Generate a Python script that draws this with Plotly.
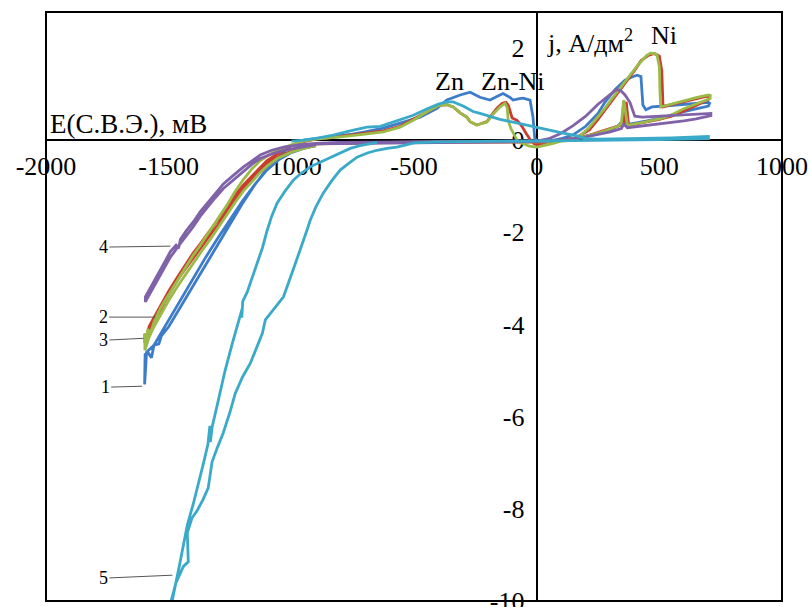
import plotly.graph_objects as go

# ---------------- data (E in mV, j in A/dm2) ----------------
# Curve 1 (blue)
E1 = [-900, -950, -1000, -1050, -1100, -1150, -1200, -1250, -1300, -1350, -1400, -1450, -1500, -1530, -1560, -1590, -1598,
      -1596, -1585, -1570, -1560, -1540, -1530, -1500, -1450, -1400, -1350, -1300, -1250, -1200, -1150, -1100, -1050, -1000, -950,
      -900, -850, -800, -750, -700, -625, -557, -475, -406, -366, -312, -271, -231, -190, -160, -137, -110, -96, -70, -55, -27, -15, -8,
      0, 50, 100, 150, 200, 250, 278, 320, 360, 389, 409, 425, 430, 433, 445, 470, 520, 600, 700, 705,
      700, 600, 520, 450, 380, 362, 355, 348, 330, 300, 250, 200, 150, 100, 50, 0, -200, -500, -800, -900]
J1 = [-0.12, -0.18, -0.27, -0.42, -0.65, -0.97, -1.33, -1.72, -2.13, -2.55, -3.0, -3.45, -3.92, -4.2, -4.45, -4.6, -5.3,
      -4.65, -4.6, -4.72, -4.45, -4.42, -4.25, -4.05, -3.6, -3.15, -2.7, -2.25, -1.8, -1.38, -0.98, -0.62, -0.35, -0.12, 0.0,
      0.03, 0.06, 0.09, 0.13, 0.18, 0.26, 0.37, 0.5, 0.69, 0.87, 0.98, 1.04, 0.93, 0.87, 0.95, 1.01, 0.93, 0.87, 0.9, 0.91, 0.87, 0.5, 0.05,
      -0.03, -0.02, 0.03, 0.12, 0.3, 0.58, 0.82, 1.1, 1.3, 1.37, 1.41, 1.38, 1.0, 0.76, 0.66, 0.72, 0.74, 0.78, 0.82, 0.8,
      0.74, 0.62, 0.5, 0.42, 0.36, 0.33, 0.85, 0.4, 0.3, 0.22, 0.14, 0.08, 0.03, 0.0, -0.02, -0.03, -0.03, -0.04, -0.06, -0.08]

# Curve 2 (red)
E2 = [-900, -950, -1000, -1058, -1100, -1127, -1160, -1195, -1230, -1261, -1300, -1330, -1371, -1400, -1430, -1465, -1500, -1534, -1560, -1580, -1597,
      -1597, -1590, -1580, -1560, -1534, -1500, -1465, -1430, -1400, -1371, -1330, -1300, -1261, -1230, -1195, -1160, -1127, -1100, -1058, -1000, -950,
      -900, -850, -800, -700, -625, -557, -503, -446, -400, -366, -340, -312, -285, -271, -244, -231, -203, -190, -162, -140, -125, -115, -100, -80, -60, -40, -25, -10,
      0, 30, 60, 100, 160, 215, 250, 280, 300, 350, 400, 425, 455, 480, 500, 510, 512, 515, 540, 600, 650, 700, 705,
      700, 650, 600, 550, 500, 450, 400, 375, 365, 355, 340, 300, 250, 200, 150, 100, 50, 0, -300, -600, -900]
J2 = [-0.12, -0.17, -0.24, -0.37, -0.52, -0.65, -0.85, -1.02, -1.28, -1.52, -1.85, -2.05, -2.34, -2.55, -2.78, -3.04, -3.35, -3.69, -3.95, -4.15, -4.4,
      -4.2, -4.3, -4.05, -3.85, -3.6, -3.28, -2.98, -2.7, -2.45, -2.25, -1.95, -1.75, -1.45, -1.2, -0.97, -0.78, -0.6, -0.45, -0.3, -0.12, -0.03,
      0.02, 0.05, 0.08, 0.15, 0.2, 0.3, 0.45, 0.62, 0.75, 0.77, 0.72, 0.59, 0.5, 0.4, 0.33, 0.35, 0.4, 0.5, 0.69, 0.8, 0.82, 0.75, 0.48, 0.43, 0.3, 0.12, 0.0, -0.08,
      -0.1, -0.08, -0.04, 0.0, 0.05, 0.22, 0.45, 0.66, 0.82, 1.17, 1.52, 1.72, 1.84, 1.88, 1.82, 1.5, 0.9, 0.72, 0.76, 0.84, 0.9, 0.96, 0.95,
      0.88, 0.75, 0.64, 0.52, 0.45, 0.4, 0.35, 0.32, 0.83, 0.38, 0.32, 0.25, 0.16, 0.08, 0.03, 0.0, -0.03, -0.04, -0.04, -0.05, -0.08]

# Curve 3 (green)
E3 = [-900, -950, -1000, -1058, -1100, -1127, -1160, -1195, -1230, -1261, -1300, -1330, -1371, -1400, -1430, -1465, -1500, -1534, -1560, -1580, -1597,
      -1597, -1590, -1585, -1575, -1560, -1534, -1500, -1465, -1430, -1400, -1371, -1330, -1300, -1261, -1230, -1195, -1160, -1127, -1100, -1058, -1000, -950,
      -900, -850, -800, -700, -625, -557, -503, -446, -400, -366, -340, -312, -285, -271, -244, -231, -203, -180, -150, -129, -120, -116, -105, -95, -80, -60, -30,
      0, 30, 60, 100, 157, 210, 250, 278, 300, 348, 380, 413, 449, 465, 490, 500, 503, 506, 520, 600, 650, 700, 707,
      707, 650, 600, 550, 520, 450, 400, 370, 355, 345, 330, 300, 250, 200, 150, 100, 50, 0, -300, -600, -900]
J3 = [-0.12, -0.18, -0.26, -0.4, -0.57, -0.7, -0.9, -1.1, -1.36, -1.6, -1.93, -2.15, -2.45, -2.67, -2.9, -3.18, -3.48, -3.8, -4.05, -4.28, -4.56,
      -4.2, -4.35, -4.1, -4.2, -3.95, -3.65, -3.35, -3.05, -2.75, -2.5, -2.28, -1.95, -1.72, -1.4, -1.12, -0.85, -0.62, -0.45, -0.35, -0.22, -0.1, -0.02,
      0.02, 0.04, 0.07, 0.13, 0.18, 0.28, 0.43, 0.62, 0.75, 0.77, 0.72, 0.59, 0.5, 0.4, 0.33, 0.35, 0.39, 0.55, 0.72, 0.8, 0.7, 0.43, 0.25, 0.15, 0.0, -0.07, -0.13,
      -0.15, -0.12, -0.08, -0.02, 0.0, 0.25, 0.5, 0.69, 0.85, 1.19, 1.42, 1.63, 1.84, 1.89, 1.86, 1.6, 1.0, 0.72, 0.74, 0.86, 0.92, 0.98, 0.97,
      0.9, 0.78, 0.68, 0.55, 0.49, 0.4, 0.35, 0.32, 0.87, 0.35, 0.3, 0.24, 0.15, 0.08, 0.03, -0.01, -0.03, -0.04, -0.04, -0.05, -0.08]

# Curve 4 (purple)
E4 = [-900, -963, -1032, -1080, -1127, -1160, -1195, -1240, -1277, -1310, -1340, -1371, -1399, -1430, -1452, -1493, -1520, -1547, -1570, -1595,
      -1595, -1570, -1547, -1520, -1493, -1470, -1460, -1452, -1430, -1399, -1371, -1340, -1310, -1277, -1240, -1195, -1160, -1127, -1080, -1032, -963,
      -900, -800, -600, -400, -200, 0, 50, 100, 150, 200, 250, 300, 326, 345, 360, 380, 393, 400, 430, 500, 600, 700, 710,
      710, 650, 600, 500, 420, 370, 355, 345, 300, 250, 200, 150, 100, 50, 0, -300, -600, -900]
J4 = [-0.1, -0.15, -0.22, -0.3, -0.4, -0.52, -0.68, -0.88, -1.05, -1.25, -1.45, -1.65, -1.87, -2.08, -2.24, -2.54, -2.8, -3.04, -3.28, -3.51,
      -3.4, -3.15, -2.92, -2.68, -2.42, -2.28, -2.35, -2.15, -1.98, -1.77, -1.55, -1.35, -1.15, -0.95, -0.78, -0.58, -0.45, -0.32, -0.22, -0.15, -0.1,
      -0.07, -0.05, -0.04, -0.04, -0.03, -0.02, 0.03, 0.15, 0.32, 0.52, 0.78, 1.0, 1.1, 1.06, 0.98, 0.82, 0.65, 0.52, 0.5, 0.52, 0.55, 0.58, 0.58,
      0.53, 0.46, 0.42, 0.35, 0.3, 0.27, 0.35, 0.25, 0.18, 0.12, 0.07, 0.03, 0.0, -0.02, -0.03, -0.05, -0.06, -0.08]

# Curve 5 (cyan)
E5 = [-1000, -950, -900, -829, -760, -692, -637, -557, -503, -446, -400, -366, -340, -300, -259, -231, -150, -96, 0, 42, 108, 164, 205, 250, 400, 550, 700,
      700, 500, 300, 100, 0, -200, -400, -500, -530, -570, -610, -651, -690, -732, -765, -801, -835, -870, -900, -923, -936, -963, -985, -1032, -1070,
      -1106, -1118, -1140, -1167, -1200, -1229, -1250, -1270, -1278, -1300, -1323, -1339, -1360, -1383, -1405, -1424, -1420, -1440, -1470, -1500, -1530,
      -1510, -1485, -1455, -1424, -1400, -1380, -1360, -1340, -1332, -1330, -1323, -1300, -1270, -1240, -1210, -1200, -1202, -1198, -1180, -1150, -1118,
      -1098, -1080, -1058, -1025, -992, -960, -923, -880, -841, -800, -760, -720, -678, -650]
J5 = [-0.02, 0.0, 0.04, 0.11, 0.2, 0.28, 0.3, 0.45, 0.54, 0.68, 0.78, 0.83, 0.83, 0.74, 0.62, 0.58, 0.45, 0.39, 0.27, 0.22, 0.15, 0.09, 0.03, 0.02, 0.03, 0.05, 0.08,
      0.03, 0.01, 0.0, -0.01, -0.02, -0.03, -0.04, -0.06, -0.1, -0.15, -0.18, -0.22, -0.28, -0.37, -0.5, -0.65, -0.88, -1.15, -1.45, -1.74, -1.95, -2.34, -2.7, -3.4, -3.65,
      -3.9, -4.19, -4.5, -4.84, -5.15, -5.5, -5.9, -6.23, -6.36, -6.65, -6.98, -7.55, -7.8, -8.03, -8.2, -8.52, -9.15, -9.25, -9.6, -10.2, -11.2,
      -10.8, -9.98, -9.2, -8.35, -7.9, -7.5, -7.05, -6.6, -6.2, -6.55, -6.23, -5.7, -5.0, -4.4, -3.85, -3.65, -3.85, -3.5, -3.3, -2.85, -2.34,
      -1.95, -1.65, -1.37, -1.1, -0.87, -0.72, -0.58, -0.47, -0.37, -0.27, -0.18, -0.12, -0.07, -0.05]

curves = [
    ("1", E1, J1, "#3D7CC9"),
    ("2", E2, J2, "#CC3B30"),
    ("3", E3, J3, "#9BBB48"),
    ("4", E4, J4, "#8062A8"),
    ("5", E5, J5, "#3AAAC8"),
]

# curve-label pointers: label, E and j at the pointer tip
LABELS = ["4", "2", "3", "1", "5"]
LABEL_E = [-1493, -1555, -1603, -1608, -1485]
LABEL_J = [-2.3, -3.84, -4.3, -5.34, -9.44]

X_TICKS = [-2000, -1500, -1000, -500, 0, 500, 1000]
Y_TICKS = [-10, -8, -6, -4, -2, 0, 2]
X_RANGE = [-2000, 1000]
Y_RANGE = [-10, 2.78]

FONT = "Liberation Serif, Times New Roman, serif"

fig = go.Figure()
for name, e, j, c in curves:
    fig.add_trace(go.Scatter(x=e, y=j, mode="lines", name=name,
                             line=dict(color=c, width=2.8), showlegend=False))

xpos = (0 - Y_RANGE[0]) / (Y_RANGE[1] - Y_RANGE[0])
ypos = (0 - X_RANGE[0]) / (X_RANGE[1] - X_RANGE[0])

fig.update_layout(
    width=811, height=607,
    margin=dict(l=46, r=29, t=12, b=6),
    paper_bgcolor="white", plot_bgcolor="white",
    font=dict(family=FONT, size=26, color="black"),
    xaxis=dict(range=X_RANGE, tickvals=X_TICKS, ticktext=[str(v) for v in X_TICKS],
               anchor="free", position=xpos, showline=True, linecolor="black", linewidth=2,
               showgrid=False, zeroline=False, ticks="", ticklabelstandoff=3,
               ticklabeloverflow="allow",
               tickfont=dict(family=FONT, size=26), automargin=False, layer="below traces"),
    yaxis=dict(range=Y_RANGE, tickvals=Y_TICKS, ticktext=[str(v) for v in Y_TICKS],
               anchor="free", position=ypos, showline=True, linecolor="black", linewidth=2,
               showgrid=False, zeroline=False, ticks="", ticklabelstandoff=6,
               ticklabeloverflow="allow",
               tickfont=dict(family=FONT, size=26), automargin=False, layer="below traces"),
    shapes=[dict(type="rect", xref="paper", yref="paper", x0=0, y0=0, x1=1, y1=1,
                 line=dict(color="black", width=2), layer="above")],
)

ann = [
    dict(x=-1990, y=0.35, text="E(С.В.Э.), мВ", xanchor="left", yanchor="middle", showarrow=False,
         font=dict(family=FONT, size=27, color="black")),
    dict(x=34, y=2.13, text="j, А/дм<sup>2</sup>", xanchor="left", yanchor="middle", showarrow=False),
    dict(x=519, y=2.28, text="Ni", xanchor="center", yanchor="middle", showarrow=False),
    dict(x=-357, y=1.28, text="Zn", xanchor="center", yanchor="middle", showarrow=False),
    dict(x=-96, y=1.28, text="Zn-Ni", xanchor="center", yanchor="middle", showarrow=False),
]
offsets = [(-67, 1), (-52, 0), (-40, 2), (-37, 1), (-69, 3)]
for lab, e, j, (ax, ay) in zip(LABELS, LABEL_E, LABEL_J, offsets):
    ann.append(dict(x=e, y=j, text=lab, showarrow=True, arrowhead=0, arrowwidth=1,
                    arrowcolor="#555555", ax=ax, ay=ay, standoff=0,
                    font=dict(family=FONT, size=18, color="black")))
for a in ann:
    a.setdefault("font", dict(family=FONT, size=26, color="black"))
fig.update_layout(annotations=ann)

fig.write_html("out.html", config={"displayModeBar": False},
               post_script="document.body.style.margin='0';")
